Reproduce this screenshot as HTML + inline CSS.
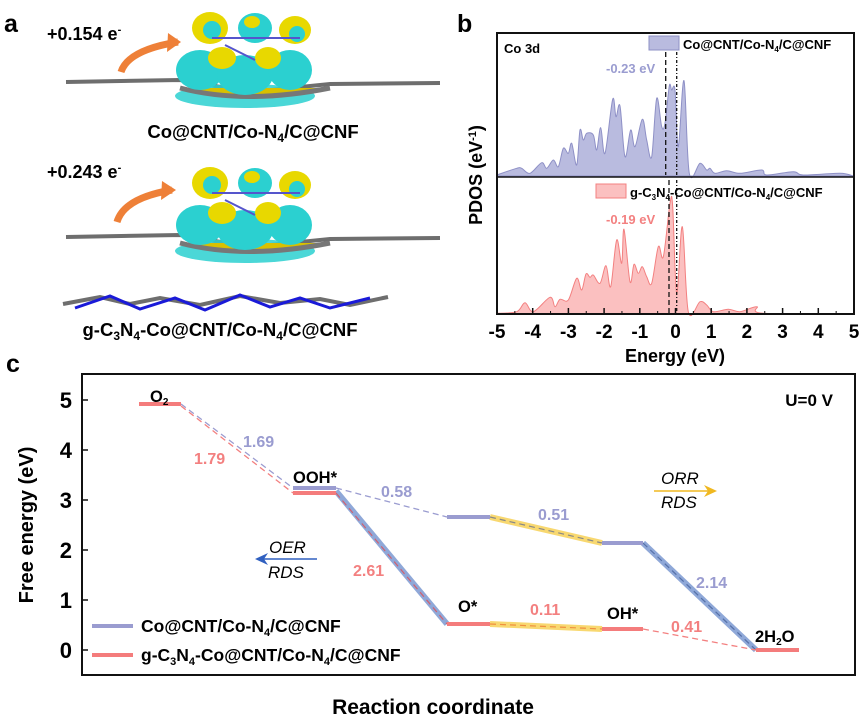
<!DOCTYPE html>
<html><head><meta charset="utf-8"><style>
body{margin:0;background:#fff}
svg{display:block;font-family:"Liberation Sans",Arial,sans-serif;font-weight:bold}
</style></head><body>
<svg id="s" width="866" height="719" viewBox="0 0 866 719" xmlns="http://www.w3.org/2000/svg">
<!-- Panel a -->
<text x="4" y="32" font-size="25">a</text>
<text x="47" y="40" font-size="18">+0.154 e<tspan dy="-7" font-size="11">-</tspan></text>
<text x="47" y="178" font-size="18">+0.243 e<tspan dy="-7" font-size="11">-</tspan></text>
<path d="M121,72 Q128,50 178,42" stroke="#ee8038" stroke-width="7" fill="none"/>
<polygon points="168,33 181,42 167,52" fill="#ee8038"/>
<path d="M117,222 Q124,198 172,190" stroke="#ee8038" stroke-width="7" fill="none"/>
<polygon points="162,181 176,190 161,200" fill="#ee8038"/>
<g id="m1">
<path d="M66,82 L180,80 L250,92 L330,84 L440,83" stroke="#6e6e6e" stroke-width="4" fill="none"/>
<ellipse cx="245" cy="96" rx="70" ry="12" fill="#2bd0d0" opacity=".85"/>
<path d="M180,88 Q245,105 330,88" stroke="#777" stroke-width="5" fill="#d8c000"/>
<ellipse cx="200" cy="70" rx="24" ry="20" fill="#2bd0d0"/>
<ellipse cx="245" cy="75" rx="28" ry="20" fill="#2bd0d0"/>
<ellipse cx="290" cy="70" rx="22" ry="20" fill="#2bd0d0"/>
<ellipse cx="222" cy="58" rx="14" ry="11" fill="#e8d800"/>
<ellipse cx="268" cy="58" rx="13" ry="11" fill="#e8d800"/>
<ellipse cx="210" cy="28" rx="18" ry="16" fill="#e8d800"/>
<ellipse cx="255" cy="28" rx="17" ry="15" fill="#2bd0d0"/>
<ellipse cx="295" cy="30" rx="16" ry="14" fill="#e8d800"/>
<ellipse cx="212" cy="30" rx="9" ry="9" fill="#2bd0d0"/>
<ellipse cx="297" cy="34" rx="8" ry="8" fill="#2bd0d0"/>
<ellipse cx="252" cy="22" rx="8" ry="6" fill="#e8d800"/>
<line x1="212" y1="38" x2="300" y2="38" stroke="#5555cc" stroke-width="2"/>
<line x1="225" y1="45" x2="255" y2="60" stroke="#5555cc" stroke-width="2"/>
</g>
<use href="#m1" transform="translate(0,155)"/>
<text x="253" y="138" font-size="18.5" text-anchor="middle">Co@CNT/Co-N<tspan dy="4" font-size="12">4</tspan><tspan dy="-4">/C@CNF</tspan></text>
<path d="M63,304 L100,297 L130,304 L160,298 L200,305 L240,296 L280,303 L320,299 L350,305 L388,297" stroke="#6e6e6e" stroke-width="4" fill="none"/>
<path d="M75,308 L110,296 L140,309 L175,298 L205,310 L240,295 L270,307 L300,298 L330,308 L370,298" stroke="#1a1ad8" stroke-width="3" fill="none"/>
<text x="220" y="336" font-size="18.5" text-anchor="middle">g-C<tspan dy="4" font-size="12">3</tspan><tspan dy="-4">N</tspan><tspan dy="4" font-size="12">4</tspan><tspan dy="-4">-Co@CNT/Co-N</tspan><tspan dy="4" font-size="12">4</tspan><tspan dy="-4">/C@CNF</tspan></text>

<!-- Panel b -->
<text x="457" y="32" font-size="25">b</text>
<path id="pt" fill="#b9bbdf" stroke="#8e90c6" stroke-width="1"/>
<path id="pb" fill="#fbc0c0" stroke="#f38080" stroke-width="1"/>
<line x1="665.7" y1="36" x2="665.7" y2="175" stroke="#111" stroke-width="1.3" stroke-dasharray="5,3"/>
<line x1="676.7" y1="36" x2="676.7" y2="175" stroke="#111" stroke-width="1.3" stroke-dasharray="3,2,1,2"/>
<line x1="669" y1="180" x2="669" y2="313" stroke="#111" stroke-width="1.3" stroke-dasharray="5,3"/>
<line x1="676.7" y1="180" x2="676.7" y2="313" stroke="#111" stroke-width="1.3" stroke-dasharray="3,2,1,2"/>
<rect x="497" y="33" width="357" height="281" fill="none" stroke="#111" stroke-width="2"/>
<line x1="497" y1="177" x2="854" y2="177" stroke="#111" stroke-width="1.5"/>
<text x="504" y="53" font-size="13">Co 3d</text>
<rect x="649" y="36" width="30" height="14" fill="#b9bbdf" stroke="#8e90c6"/>
<text x="683" y="49" font-size="13">Co@CNT/Co-N<tspan dy="3" font-size="8">4</tspan><tspan dy="-3">/C@CNF</tspan></text>
<rect x="596" y="184" width="30" height="14" fill="#fbc0c0" stroke="#f38080"/>
<text x="630" y="197" font-size="13">g-C<tspan dy="3" font-size="8">3</tspan><tspan dy="-3">N</tspan><tspan dy="3" font-size="8">4</tspan><tspan dy="-3">-Co@CNT/Co-N</tspan><tspan dy="3" font-size="8">4</tspan><tspan dy="-3">/C@CNF</tspan></text>
<text x="606" y="73" font-size="13" fill="#9a9cd0">-0.23 eV</text>
<text x="606" y="224" font-size="13" fill="#f38080">-0.19 eV</text>
<g id="bt"></g>
<text x="675" y="362" font-size="18" text-anchor="middle">Energy (eV)</text>
<text transform="translate(482,175) rotate(-90)" font-size="18" text-anchor="middle">PDOS (eV<tspan dy="-6" font-size="11">-1</tspan><tspan dy="6">)</tspan></text>

<!-- Panel c -->
<text x="6" y="372" font-size="25">c</text>
<rect x="82" y="374" width="773" height="301" fill="none" stroke="#111" stroke-width="2"/>
<g font-size="22" text-anchor="end">
<text x="72" y="408">5</text><text x="72" y="458">4</text><text x="72" y="508">3</text><text x="72" y="558">2</text><text x="72" y="608">1</text><text x="72" y="658">0</text>
</g>
<g stroke="#111" stroke-width="1.5">
<line x1="82" y1="400" x2="88" y2="400"/><line x1="82" y1="450" x2="88" y2="450"/><line x1="82" y1="500" x2="88" y2="500"/><line x1="82" y1="550" x2="88" y2="550"/><line x1="82" y1="600" x2="88" y2="600"/><line x1="82" y1="650" x2="88" y2="650"/>
</g>
<text transform="translate(33,525) rotate(-90)" font-size="20" text-anchor="middle">Free energy (eV)</text>
<text x="433" y="714" font-size="21" text-anchor="middle">Reaction coordinate</text>
<text x="833" y="406" font-size="17" text-anchor="end">U=0 V</text>
<!-- connectors -->
<line x1="181" y1="404" x2="293" y2="488" stroke="#9a9cd0" stroke-width="1.3" stroke-dasharray="6,4"/>
<line x1="181" y1="406" x2="293" y2="493" stroke="#f38080" stroke-width="1.3" stroke-dasharray="6,4"/>
<line x1="336" y1="488" x2="447" y2="517" stroke="#9a9cd0" stroke-width="1.3" stroke-dasharray="6,4"/>
<line x1="336" y1="491" x2="447" y2="624" stroke="#8fa8d8" stroke-width="6"/>
<line x1="336" y1="493" x2="447" y2="624" stroke="#d06070" stroke-width="1.2" stroke-dasharray="6,4"/>
<line x1="490" y1="517" x2="602" y2="543" stroke="#f8d870" stroke-width="6"/>
<line x1="490" y1="517" x2="602" y2="543" stroke="#888" stroke-width="1.2" stroke-dasharray="6,4"/>
<line x1="490" y1="624" x2="602" y2="629" stroke="#f8d870" stroke-width="6"/>
<line x1="490" y1="624" x2="602" y2="629" stroke="#f09040" stroke-width="1.2" stroke-dasharray="6,4"/>
<line x1="643" y1="543" x2="756" y2="650" stroke="#8fa8d8" stroke-width="6"/>
<line x1="643" y1="543" x2="756" y2="650" stroke="#5570a8" stroke-width="1.2" stroke-dasharray="6,4"/>
<line x1="643" y1="629" x2="756" y2="650" stroke="#f38080" stroke-width="1.3" stroke-dasharray="6,4"/>
<!-- levels -->
<g stroke-width="4">
<line x1="139" y1="404" x2="181" y2="404" stroke="#f47c7c"/>
<line x1="293" y1="488" x2="336" y2="488" stroke="#9a9cd0"/>
<line x1="293" y1="493" x2="336" y2="493" stroke="#f47c7c"/>
<line x1="447" y1="517" x2="490" y2="517" stroke="#9a9cd0"/>
<line x1="447" y1="624" x2="490" y2="624" stroke="#f47c7c"/>
<line x1="602" y1="543" x2="643" y2="543" stroke="#9a9cd0"/>
<line x1="602" y1="629" x2="643" y2="629" stroke="#f47c7c"/>
<line x1="756" y1="650" x2="799" y2="650" stroke="#f47c7c"/>
</g>
<g font-size="16.5">
<text x="150" y="402">O<tspan dy="3" font-size="10">2</tspan></text>
<text x="293" y="483">OOH*</text>
<text x="458" y="612">O*</text>
<text x="607" y="619">OH*</text>
<text x="755" y="642">2H<tspan dy="3" font-size="10">2</tspan><tspan dy="-3">O</tspan></text>
</g>
<g font-size="16">
<text x="243" y="447" fill="#9a9cd0">1.69</text>
<text x="194" y="464" fill="#f38080">1.79</text>
<text x="381" y="497" fill="#9a9cd0">0.58</text>
<text x="353" y="576" fill="#f38080">2.61</text>
<text x="538" y="520" fill="#9a9cd0">0.51</text>
<text x="530" y="615" fill="#f38080">0.11</text>
<text x="696" y="588" fill="#9a9cd0">2.14</text>
<text x="671" y="632" fill="#f38080">0.41</text>
</g>
<g font-size="17" font-weight="normal" font-style="italic">
<text x="269" y="553">OER</text><text x="268" y="578">RDS</text>
<text x="661" y="484">ORR</text><text x="661" y="508">RDS</text>
</g>
<line x1="260" y1="559" x2="317" y2="559" stroke="#3060c0" stroke-width="1.5"/>
<polygon points="255,559 268,553 264,559 268,565" fill="#3060c0"/>
<line x1="654" y1="491" x2="712" y2="491" stroke="#f0b820" stroke-width="1.5"/>
<polygon points="717,491 704,485 708,491 704,497" fill="#f0b820"/>
<line x1="92" y1="626" x2="133" y2="626" stroke="#9a9cd0" stroke-width="4"/>
<line x1="92" y1="655" x2="133" y2="655" stroke="#f47c7c" stroke-width="4"/>
<text x="141" y="632" font-size="17.5">Co@CNT/Co-N<tspan dy="4" font-size="11">4</tspan><tspan dy="-4">/C@CNF</tspan></text>
<text x="141" y="661" font-size="17.5">g-C<tspan dy="4" font-size="11">3</tspan><tspan dy="-4">N</tspan><tspan dy="4" font-size="11">4</tspan><tspan dy="-4">-Co@CNT/Co-N</tspan><tspan dy="4" font-size="11">4</tspan><tspan dy="-4">/C@CNF</tspan></text>
</svg>
<script>
function P(a,base){
var pts=a.map(function(p){return [480+p[0]/3,p[1]/3]});
var d="M"+pts[0][0].toFixed(1)+","+(base/3).toFixed(1)+" L"+pts[0][0].toFixed(1)+","+pts[0][1].toFixed(1);
for(var i=0;i<pts.length-1;i++){
var p0=pts[Math.max(i-1,0)],p1=pts[i],p2=pts[i+1],p3=pts[Math.min(i+2,pts.length-1)];
var c1x=p1[0]+(p2[0]-p0[0])/6,c1y=p1[1]+(p2[1]-p0[1])/6,c2x=p2[0]-(p3[0]-p1[0])/6,c2y=p2[1]-(p3[1]-p1[1])/6;
d+=" C"+c1x.toFixed(1)+","+c1y.toFixed(1)+" "+c2x.toFixed(1)+","+c2y.toFixed(1)+" "+p2[0].toFixed(1)+","+p2[1].toFixed(1);}
d+=" L"+pts[pts.length-1][0].toFixed(1)+","+(base/3).toFixed(1)+"Z";return d;}
var t=[[50,525],[110,505],[125,505],[150,520],[185,488],[200,505],[220,480],[235,500],[250,445],[265,460],[275,430],[290,495],[300,390],[310,420],[320,400],[340,405],[350,450],[362,383],[375,460],[398,298],[408,350],[420,318],[435,470],[452,390],[465,440],[487,358],[500,420],[515,470],[530,295],[545,380],[555,370],[568,258],[575,270],[585,270],[595,440],[612,242],[628,520],[660,490],[680,510],[690,505],[705,520],[740,512],[780,520],[845,510],[860,525],[940,515],[970,525],[1080,520],[1120,528]];
var b=[[50,940],[110,935],[135,908],[160,935],[210,892],[225,920],[240,898],[265,900],[290,835],[305,870],[318,822],[330,832],[340,825],[360,850],[378,797],[392,860],[410,720],[425,790],[432,688],[450,845],[462,793],[475,820],[487,800],[500,830],[515,850],[535,740],[550,770],[570,610],[578,620],[590,880],[607,680],[625,935],[660,905],[680,915],[700,935],[745,928],[780,935],[830,920],[850,940],[1120,942]];
document.getElementById("pt").setAttribute("d",P(t,528));
document.getElementById("pb").setAttribute("d",P(b,942));
var g=document.getElementById("bt"),s="";
for(var i=-5;i<=5;i++){var x=497+(i+5)*35.7;s+='<line x1="'+x+'" y1="314" x2="'+x+'" y2="308" stroke="#111" stroke-width="1.5"/>';s+='<text x="'+x+'" y="338" font-size="19" text-anchor="middle">'+i+'</text>';if(i<5){s+='<line x1="'+(x+17.85)+'" y1="314" x2="'+(x+17.85)+'" y2="311" stroke="#111"/>';}}
g.innerHTML=s;
</script>
</body></html>
